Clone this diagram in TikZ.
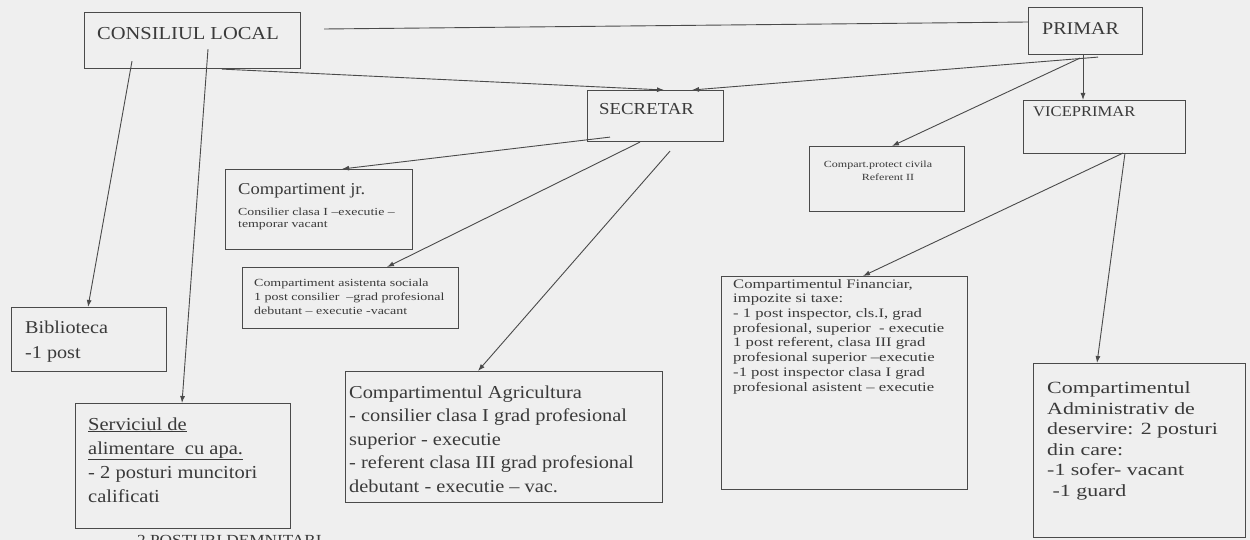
\documentclass[tikz,border=0pt]{standalone}
\usepackage{fontspec}
\setmainfont{Liberation Serif}[FakeStretch=1.12]
\newfontfamily\sq{Liberation Serif}[FakeStretch=1.28]
\usetikzlibrary{calc,arrows.meta}
\definecolor{ink}{HTML}{3A3A3A}
\definecolor{edgec}{HTML}{4A4A4A}
\definecolor{paper}{HTML}{EFEFEF}
\newcommand{\fs}[2]{\fontsize{#1}{#2}\selectfont\lineskiplimit=-50pt\lineskip=0pt}
\begin{document}
\begin{tikzpicture}[x=1pt,y=-1pt,
 box/.style={draw=edgec,line width=1.1pt,rectangle,inner sep=0pt,anchor=north west},
 txt/.style={text=ink,anchor=base west,align=left,inner sep=0pt},
 conn/.style={draw=edgec,line width=0.9pt},
 arr/.style={conn,-{Latex[length=7pt,width=5pt]}}]
\fill[paper] (0,0) rectangle (1250,540);
\useasboundingbox (0,0) rectangle (1250,540);

% boxes
\node[box,minimum width=216pt,minimum height=56pt] (cl) at (84,12) {};
\node[box,minimum width=114pt,minimum height=47pt] (pr) at (1028,7) {};
\node[box,minimum width=136pt,minimum height=51pt] (sec) at (587,90) {};
\node[box,minimum width=162pt,minimum height=53pt] (vp) at (1023,100) {};
\node[box,minimum width=155pt,minimum height=65pt] (pc) at (809,146) {};
\node[box,minimum width=187pt,minimum height=80pt] (jr) at (225,169) {};
\node[box,minimum width=216pt,minimum height=61pt] (as) at (242,267) {};
\node[box,minimum width=155pt,minimum height=64pt] (bib) at (11,307) {};
\node[box,minimum width=215pt,minimum height=125pt] (srv) at (75,403) {};
\node[box,minimum width=317pt,minimum height=131pt] (agr) at (345,371) {};
\node[box,minimum width=246pt,minimum height=213pt] (fin) at (721,276) {};
\node[box,minimum width=212pt,minimum height=174pt] (adm) at (1033,363) {};

% texts (multi-line nodes are placed at the baseline of their last line)
\node[txt,font=\fs{18.3}{21}] (clt) at (97,40) {CONSILIUL LOCAL};
\node[txt,font=\fs{17.9}{21}] (prt) at (1042,35) {PRIMAR};
\node[txt,font=\fs{16.8}{20}] (sect) at (599,115) {SECRETAR};
\node[txt,font=\fs{14.8}{18}] (vpt) at (1033,117) {VICEPRIMAR};
\node[text=ink,inner sep=0pt,anchor=base,align=center,font=\sq\fs{9.4}{13}] (pct) at (878,181) {Compart.protect civila\\\hspace*{20pt}Referent II};
\node[txt,font=\fs{16.6}{20}] (jrt) at (238,195) {Compartiment jr.};
\node[txt,font=\sq\fs{10.8}{13}] (jrs) at (238,228) {Consilier clasa I –executie –\\temporar vacant};
\node[txt,font=\sq\fs{10.9}{14}] (ast) at (254,314) {Compartiment asistenta sociala\\1 post consilier \ –grad profesional\\debutant – executie -vacant};
\node[txt,font=\fs{18}{25}] (bibt) at (25,358) {Biblioteca\\-1 post};
\node[txt,font=\fs{18.3}{24}] (srvt) at (88,502) {\underline{Serviciul de}\\\underline{alimentare \ cu apa.}\\- 2 posturi muncitori\\calificati};
\node[txt,font=\fs{18.2}{23.5}] (agrt) at (349,492) {Compartimentul Agricultura\\- consilier clasa I grad profesional\\superior - executie\\- referent clasa III grad profesional\\debutant - executie – vac.};
\node[txt,font=\sq\fs{13}{14.7}] (fint) at (733,391) {Compartimentul Financiar,\\impozite si taxe:\\- 1 post inspector, cls.I, grad\\profesional, superior \ - executie\\1 post referent, clasa III grad\\profesional superior –executie\\-1 post inspector clasa I grad\\profesional asistent – executie};
\node[txt,font=\sq\fs{17.1}{20.5}] (admt) at (1047,496) {Compartimentul\\Administrativ de\\deservire: 2 posturi\\din care:\\-1 sofer- vacant\\\ -1 guard};
\node[txt,font=\fs{15.4}{17}] (dem) at (137,545) {2 POSTURI DEMNITARI};

% connectors
\draw[conn] ($(cl.north east)+(23,17)$) -- ($(pr.north west)+(0,15)$);
\draw[arr] ($(cl.south west)+(138,0)$) -- ($(sec.north west)+(77,0)$);
\draw[arr] ($(pr.south west)+(70,2)$) -- ($(sec.north west)+(105,0)$);
\draw[arr] ($(pr.south west)+(55,0)$) -- ($(vp.north west)+(60,0)$);
\draw[arr] ($(pr.south west)+(52,3)$) -- ($(pc.north west)+(83,0)$);
\draw[arr] ($(vp.south west)+(100,-1)$) -- ($(fin.north west)+(142,0)$);
\draw[arr] ($(vp.south west)+(102,-1)$) -- ($(adm.north west)+(64,0)$);
\draw[arr] ($(sec.south west)+(23,-5)$) -- ($(jr.north west)+(117,0)$);
\draw[arr] ($(sec.south west)+(53,0)$) -- ($(as.north west)+(145,0)$);
\draw[arr] ($(sec.south west)+(83,9)$) -- ($(agr.north west)+(133,0)$);
\draw[arr] ($(cl.south west)+(48,-8)$) -- ($(bib.north west)+(77,0)$);
\draw[arr] ($(cl.south west)+(124,-20)$) -- ($(srv.north west)+(107,0)$);
\end{tikzpicture}
\end{document}
